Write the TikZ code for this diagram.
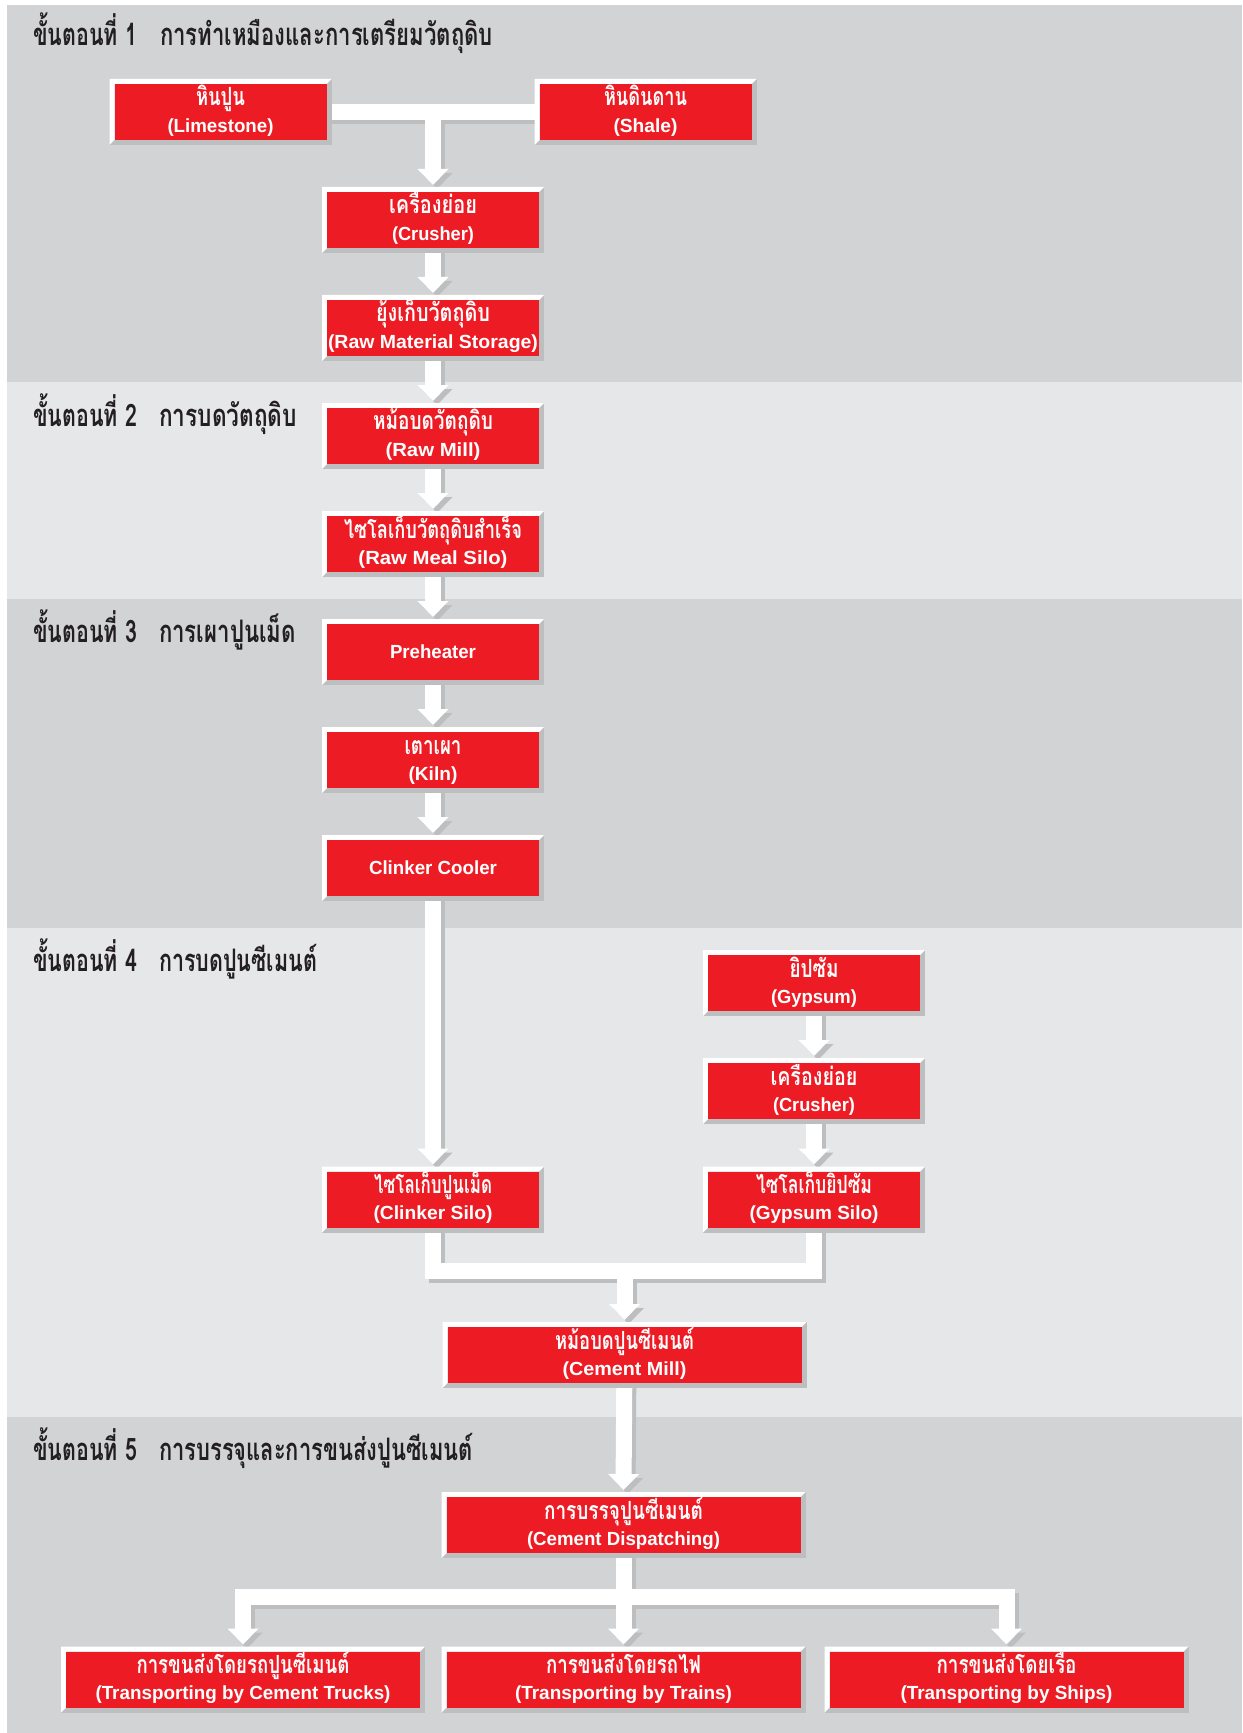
\documentclass[tikz,border=0pt]{standalone}
\usepackage{fontspec}
\usepackage{graphicx}
\usetikzlibrary{arrows.meta}
\newfontfamily\thaifont[Script=Thai]{Loma}
\newfontfamily\latfont{Liberation Sans}
\definecolor{bandD}{HTML}{D1D3D4}
\definecolor{bandL}{HTML}{E6E7E8}
\definecolor{shade}{HTML}{BCBEC0}
\definecolor{cred}{HTML}{ED1C24}
\definecolor{ink}{HTML}{231F20}
\newdimen\pxu \pxu=0.5pt
\newcommand\fitw[2]{\resizebox{#1\pxu}{\height}{#2}}
\newcommand\thb{\thaifont\bfseries\fontsize{12.5pt}{12.5pt}\selectfont}
\newcommand\ltb{\latfont\bfseries\fontsize{9.5pt}{9.5pt}\selectfont}
\newcommand\twol[4]{\makebox[0pt]{\raisebox{3pt}[0pt][0pt]{\fitw{#1}{\thb #2}}}\makebox[0pt]{\raisebox{-10.2pt}[0pt][0pt]{\fitw{#3}{\ltb #4}}}}
\newcommand\onel[2]{\makebox[0pt]{\raisebox{-3.3pt}[0pt][0pt]{\fitw{#1}{\ltb #2}}}}
\pgfdeclarelayer{back}
\pgfdeclarelayer{mid}
\pgfsetlayers{back,mid,main}
\tikzset{
  pbox/.style={rectangle, inner sep=0pt, outer sep=0pt, minimum width=111pt, minimum height=33pt, fill=shade, text=white,
    path picture={
      \fill[white] (path picture bounding box.south west) -- (path picture bounding box.north west)
        -- (path picture bounding box.north east) -- ([shift={(-2.5pt,-2.5pt)}]path picture bounding box.north east)
        -- ([shift={(2.5pt,-2.5pt)}]path picture bounding box.north west)
        -- ([shift={(2.5pt,2.5pt)}]path picture bounding box.south west) -- cycle;
      \fill[cred] ([shift={(2.5pt,2.5pt)}]path picture bounding box.south west) rectangle ([shift={(-2.5pt,-2.5pt)}]path picture bounding box.north east);
    }},
  wbox/.style={pbox, minimum width=182pt},
  hd/.style={inner sep=0pt, outer sep=0pt, text=ink, anchor=base west, font=\thaifont\bfseries\fontsize{15.5pt}{15.5pt}\selectfont},
  flw/.style={line width=8pt, draw=white},
  fls/.style={line width=8pt, draw=shade, transform canvas={shift={(2pt,-2pt)}}},
  tipa/.style={-{Triangle[width=15pt,length=8pt]}},
}
\newcommand\conns[1]{%
  \draw[#1] (lime.center) -- (shale.center);
  \draw[#1,tipa] (lime.center -| crA.north) -- ([yshift=1pt]crA.north);
  \draw[#1,tipa] (crA.center) -- ([yshift=1pt]rms.north);
  \draw[#1,tipa] (rms.center) -- ([yshift=1pt]rmill.north);
  \draw[#1,tipa] (rmill.center) -- ([yshift=1pt]rmsilo.north);
  \draw[#1,tipa] (rmsilo.center) -- ([yshift=1pt]preh.north);
  \draw[#1,tipa] (preh.center) -- ([yshift=1pt]kiln.north);
  \draw[#1,tipa] (kiln.center) -- ([yshift=1pt]cool.north);
  \draw[#1,tipa] (cool.center) -- ([yshift=1pt]csilo.north);
  \draw[#1,tipa] (gyp.center) -- ([yshift=1pt]crB.north);
  \draw[#1,tipa] (crB.center) -- ([yshift=1pt]gsilo.north);
  \draw[#1] (csilo.center) -- (j1) -- (j2) -- (gsilo.center);
  \draw[#1,tipa] (j1 -| cmill.north) -- ([yshift=1pt]cmill.north);
  \draw[#1,tipa] (cmill.center) -- ([yshift=1pt]disp.north);
  \draw[#1] (disp.center) -- (j3);
  \draw[#1,tipa] (j3) -| ([yshift=1pt]trucks.north);
  \draw[#1,tipa] (j3) -| ([yshift=1pt]ships.north);
  \draw[#1,tipa] (j3) -- ([yshift=1pt]trains.north);
}
\begin{document}
\begin{tikzpicture}[x=0.5pt,y=-0.5pt]
\useasboundingbox (0,0) rectangle (1242,1733);
\begin{pgfonlayer}{back}
\fill[white] (0,0) rectangle (1242,1733);
\fill[bandD] (7,5.5) rectangle (1242,381.5);
\fill[bandL] (7,381.5) rectangle (1242,599);
\fill[bandD] (7,599) rectangle (1242,928);
\fill[bandL] (7,928) rectangle (1242,1417);
\fill[bandD] (7,1417) rectangle (1242,1733);
\end{pgfonlayer}
% headings
\node[hd] (h1a) at (33,46) {\fitw{104}{ขั้นตอนที่ 1}};
\node[hd] (h1b) at (160,46) {\fitw{333}{การทำเหมืองและการเตรียมวัตถุดิบ}};
\node[hd] (h2a) at (33,426) {\fitw{104}{ขั้นตอนที่ 2}};
\node[hd] (h2b) at (159,426) {\fitw{138}{การบดวัตถุดิบ}};
\node[hd] (h3a) at (33,642) {\fitw{104}{ขั้นตอนที่ 3}};
\node[hd] (h3b) at (159,642) {\fitw{137}{การเผาปูนเม็ด}};
\node[hd] (h4a) at (33,971) {\fitw{104}{ขั้นตอนที่ 4}};
\node[hd] (h4b) at (159,971) {\fitw{158}{การบดปูนซีเมนต์}};
\node[hd] (h5a) at (33,1460) {\fitw{104}{ขั้นตอนที่ 5}};
\node[hd] (h5b) at (159,1460) {\fitw{314}{การบรรจุและการขนส่งปูนซีเมนต์}};
% boxes
\node[pbox] (lime) at (220.5,112) {\twol{49}{หินปูน}{106}{(Limestone)}};
\node[pbox] (shale) at (645.5,112) {\twol{83}{หินดินดาน}{64}{(Shale)}};
\node[pbox] (crA) at (433,220) {\twol{88}{เครื่องย่อย}{82}{(Crusher)}};
\node[pbox] (rms) at (433,328) {\twol{114}{ยุ้งเก็บวัตถุดิบ}{210}{(Raw Material Storage)}};
\node[pbox] (rmill) at (433,436) {\twol{120}{หม้อบดวัตถุดิบ}{95}{(Raw Mill)}};
\node[pbox] (rmsilo) at (433,544) {\twol{178}{ไซโลเก็บวัตถุดิบสำเร็จ}{149}{(Raw Meal Silo)}};
\node[pbox] (preh) at (433,652) {\onel{86}{Preheater}};
\node[pbox] (kiln) at (433,760) {\twol{57}{เตาเผา}{49}{(Kiln)}};
\node[pbox] (cool) at (433,868) {\onel{128}{Clinker Cooler}};
\node[pbox] (gyp) at (814,983) {\twol{49}{ยิปซั่ม}{86}{(Gypsum)}};
\node[pbox] (crB) at (814,1091) {\twol{87}{เครื่องย่อย}{82}{(Crusher)}};
\node[pbox] (csilo) at (433,1199.5) {\twol{118}{ไซโลเก็บปูนเม็ด}{119}{(Clinker Silo)}};
\node[pbox] (gsilo) at (814,1199.5) {\twol{116}{ไซโลเก็บยิปซั่ม}{129}{(Gypsum Silo)}};
\node[wbox] (cmill) at (624.5,1355) {\twol{139}{หม้อบดปูนซีเมนต์}{124}{(Cement Mill)}};
\node[wbox] (disp) at (623.5,1525) {\twol{159}{การบรรจุปูนซีเมนต์}{193}{(Cement Dispatching)}};
\node[wbox] (trucks) at (243,1679.5) {\twol{213}{การขนส่งโดยรถปูนซีเมนต์}{295}{(Transporting by Cement Trucks)}};
\node[wbox] (trains) at (623.5,1679.5) {\twol{155}{การขนส่งโดยรถไฟ}{217}{(Transporting by Trains)}};
\node[wbox] (ships) at (1006.5,1679.5) {\twol{140}{การขนส่งโดยเรือ}{212}{(Transporting by Ships)}};
\coordinate (j1) at (433,1271);
\coordinate (j2) at (814,1271);
\coordinate (j3) at (623.5,1597);
\begin{pgfonlayer}{mid}
\conns{fls}
\conns{flw}
\end{pgfonlayer}
\end{tikzpicture}
\end{document}
